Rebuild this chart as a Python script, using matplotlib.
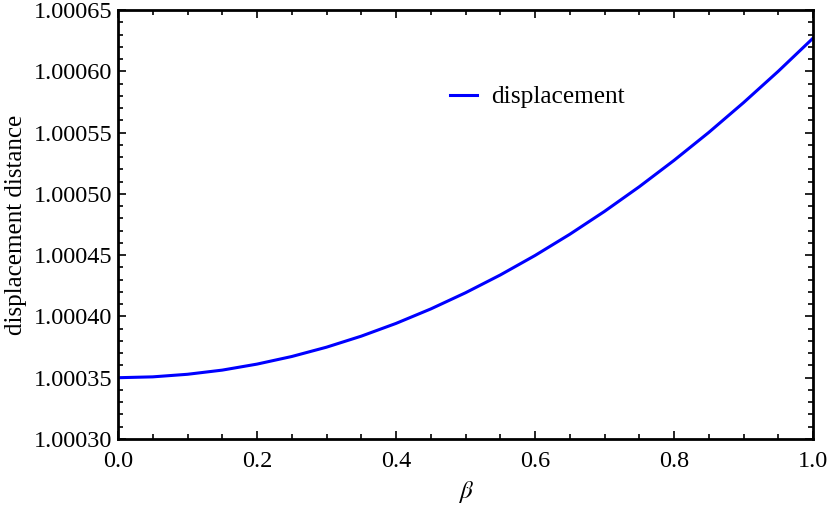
import numpy as np
import matplotlib.pyplot as plt
from matplotlib.ticker import MultipleLocator, FormatStrFormatter

plt.rcParams['font.family'] = ['Liberation Serif', 'DejaVu Serif']
plt.rcParams['mathtext.fontset'] = 'stix'

# values
beta = [0.00, 0.05, 0.10, 0.15, 0.20, 0.25, 0.30, 0.35, 0.40, 0.45, 0.50,
        0.55, 0.60, 0.65, 0.70, 0.75, 0.80, 0.85, 0.90, 0.95, 1.00]
displacement = [1.0003500, 1.0003507, 1.0003528, 1.0003562, 1.0003611, 1.0003673,
                1.0003749, 1.0003839, 1.0003943, 1.0004061, 1.0004193, 1.0004338,
                1.0004497, 1.0004670, 1.0004857, 1.0005058, 1.0005273, 1.0005501,
                1.0005744, 1.0006000, 1.0006270]

fig = plt.figure(figsize=(8.3, 5.09), dpi=100)
ax = fig.add_axes([118/830, 1 - 439/509, (813 - 118)/830, (439 - 10)/509])

ax.plot(beta, displacement, color=(0, 0, 1), lw=2.2, label='displacement')

ax.set_xlim(0, 1)
ax.set_ylim(1.00030, 1.00065)
ax.xaxis.set_major_locator(MultipleLocator(0.2))
ax.xaxis.set_minor_locator(MultipleLocator(0.05))
ax.yaxis.set_major_locator(MultipleLocator(0.00005))
ax.yaxis.set_minor_locator(MultipleLocator(0.00001))
ax.xaxis.set_major_formatter(FormatStrFormatter('%.1f'))
ax.yaxis.set_major_formatter(FormatStrFormatter('%.5f'))

for s in ax.spines.values():
    s.set_linewidth(2)

ax.tick_params(which='both', direction='in', labelsize=17.5, width=1.2)
ax.tick_params(which='major', length=6)
ax.tick_params(which='minor', length=3.5)
ax.tick_params(axis='x', which='major', pad=8.5)
ax.tick_params(axis='y', which='major', pad=4)

# opposite frame ticks, lighter, no labels
ax.tick_params(which='both', top=True, right=True, labeltop=False, labelright=False)
for t in ax.xaxis.get_ticklines(minor=False)[1::2] + ax.xaxis.get_ticklines(minor=True)[1::2]:
    t.set_color('#999999')
for t in ax.yaxis.get_ticklines(minor=False)[1::2] + ax.yaxis.get_ticklines(minor=True)[1::2]:
    t.set_color('#999999')

ax.set_xlabel(r'$\beta$', fontsize=18, labelpad=5)
ax.set_ylabel('displacement distance', fontsize=18, labelpad=5)

ax.legend(loc='center left', bbox_to_anchor=(0.478, 0.797), frameon=False,
          fontsize=18.3, borderpad=0, borderaxespad=0, handlelength=1.05,
          handletextpad=0.55)

fig.savefig('out.png', dpi=100)
